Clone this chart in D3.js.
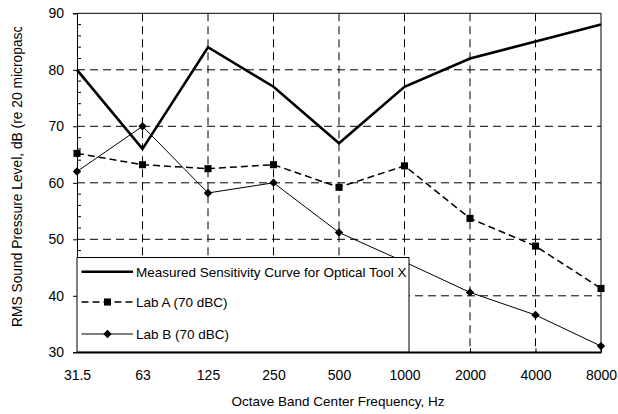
<!DOCTYPE html>
<html><head><meta charset="utf-8">
<script src="https://cdn.jsdelivr.net/npm/d3@7"></script>
<style>body{margin:0;background:#fff}svg{display:block;font-family:"Liberation Sans",Arial,sans-serif}</style>
</head><body><svg id="c" width="618" height="414"></svg>
<script>
const categories = ["31.5","63","125","250","500","1000","2000","4000","8000"];
const measured = [80,66,84,77,67,77,82,85,88];
const labA = [65.2,63.2,62.5,63.2,59.2,63.0,53.7,48.8,41.3];
const labB = [62,70,58.2,60,51.2,46,40.6,36.6,31.1];
const yTicks = [30,40,50,60,70,80,90];
const seriesNames = ["Measured Sensitivity Curve for Optical Tool X","Lab A (70 dBC)","Lab B (70 dBC)"];

const svg = d3.select("#c");
const L=77,R=601,T=13.3,B=352.3;
const x = d3.scalePoint().domain(categories).range([L,R]);
const y = d3.scaleLinear().domain([30,90]).range([B,T]);

// grid
const g = svg.append("g");
g.selectAll(".hg").data(yTicks.filter(v=>v>30&&v<90)).join("line")
  .attr("x1",L).attr("x2",R).attr("y1",d=>y(d)).attr("y2",d=>y(d))
  .attr("stroke","#000").attr("stroke-width",1).attr("stroke-dasharray","8,5");
g.selectAll(".vg").data(categories.slice(1,-1)).join("line")
  .attr("x1",d=>x(d)).attr("x2",d=>x(d)).attr("y1",T).attr("y2",B)
  .attr("stroke","#000").attr("stroke-width",1).attr("stroke-dasharray","8,5");
// frame top/right
svg.append("line").attr("x1",L).attr("x2",R).attr("y1",y(90)).attr("y2",y(90)).attr("stroke","#000");
svg.append("line").attr("x1",R).attr("x2",R).attr("y1",T).attr("y2",B).attr("stroke","#000");

// axes
const yAxis = d3.axisLeft(y).tickValues(yTicks).tickSize(4).tickPadding(9);
const ya = svg.append("g").attr("transform",`translate(${L},0)`).call(yAxis);
ya.select(".domain").attr("stroke","#000");
ya.selectAll("text").attr("font-size",14).attr("fill","#000").attr("font-family","Liberation Sans, Arial");
// minor ticks inward
const minor = d3.range(32,90,2).filter(v=>v%10!==0);
svg.append("g").selectAll("line").data(minor).join("line")
  .attr("x1",L).attr("x2",L+4).attr("y1",d=>y(d)).attr("y2",d=>y(d)).attr("stroke","#000");

const xAxis = d3.axisBottom(x).tickSizeInner(-4).tickSizeOuter(0).tickPadding(18);
const xa = svg.append("g").attr("transform",`translate(0,${B})`).call(xAxis);
xa.select(".domain").attr("stroke","#000").attr("stroke-width",1.5);
xa.selectAll("text").attr("font-size",14).attr("fill","#000").attr("font-family","Liberation Sans, Arial");

// titles
svg.append("text").attr("x",338).attr("y",406).attr("text-anchor","middle").attr("font-size",13.5)
  .text("Octave Band Center Frequency, Hz");
svg.append("clipPath").attr("id","yclip").append("rect").attr("x",0).attr("y",27).attr("width",40).attr("height",380);
svg.append("g").attr("clip-path","url(#yclip)").append("text")
  .attr("transform","translate(22,327) rotate(-90)").attr("text-anchor","start").attr("font-size",13.8)
  .text("RMS Sound Pressure Level, dB (re 20 micropascals)");

// series
const line = d3.line().x((d,i)=>x(categories[i])).y(d=>y(d));
svg.append("path").datum(labB).attr("d",line).attr("fill","none").attr("stroke","#000").attr("stroke-width",1);
svg.append("path").datum(labA).attr("d",line).attr("fill","none").attr("stroke","#000").attr("stroke-width",1.5).attr("stroke-dasharray","7,4");
svg.append("path").datum(measured).attr("d",line).attr("fill","none").attr("stroke","#000").attr("stroke-width",2.6);

const sq = d3.symbol().type(d3.symbolSquare).size(50);
const dm = "M0,-4.2L4.2,0L0,4.2L-4.2,0Z";
svg.append("g").selectAll("path").data(labA).join("path")
  .attr("transform",(d,i)=>`translate(${x(categories[i])},${y(d)})`).attr("d",sq).attr("fill","#000");
svg.append("g").selectAll("path").data(labB).join("path")
  .attr("transform",(d,i)=>`translate(${x(categories[i])},${y(d)})`).attr("d",dm).attr("fill","#000");

// legend
const lg = svg.append("g");
lg.append("rect").attr("x",L).attr("y",257.5).attr("width",332).attr("height",B-257.5)
  .attr("fill","#fff").attr("stroke","#000").attr("stroke-width",1);
const rows=[271.7,302,334];
const styles=[{w:2.6,da:null,m:null},{w:1.5,da:"7,4",m:sq},{w:1,da:null,m:dm}];
rows.forEach((ry,i)=>{
  const s=styles[i];
  lg.append("line").attr("x1",81.5).attr("x2",133).attr("y1",ry).attr("y2",ry)
    .attr("stroke","#000").attr("stroke-width",s.w).attr("stroke-dasharray",s.da);
  if(s.m) lg.append("path").attr("transform",`translate(107.5,${ry})`).attr("d",s.m).attr("fill","#000");
  lg.append("text").attr("x",136).attr("y",ry+4.8).attr("font-size",13.5).text(seriesNames[i]);
});
svg.append("line").attr("x1",L).attr("x2",R).attr("y1",B).attr("y2",B).attr("stroke","#000").attr("stroke-width",1.5);
</script></body></html>
